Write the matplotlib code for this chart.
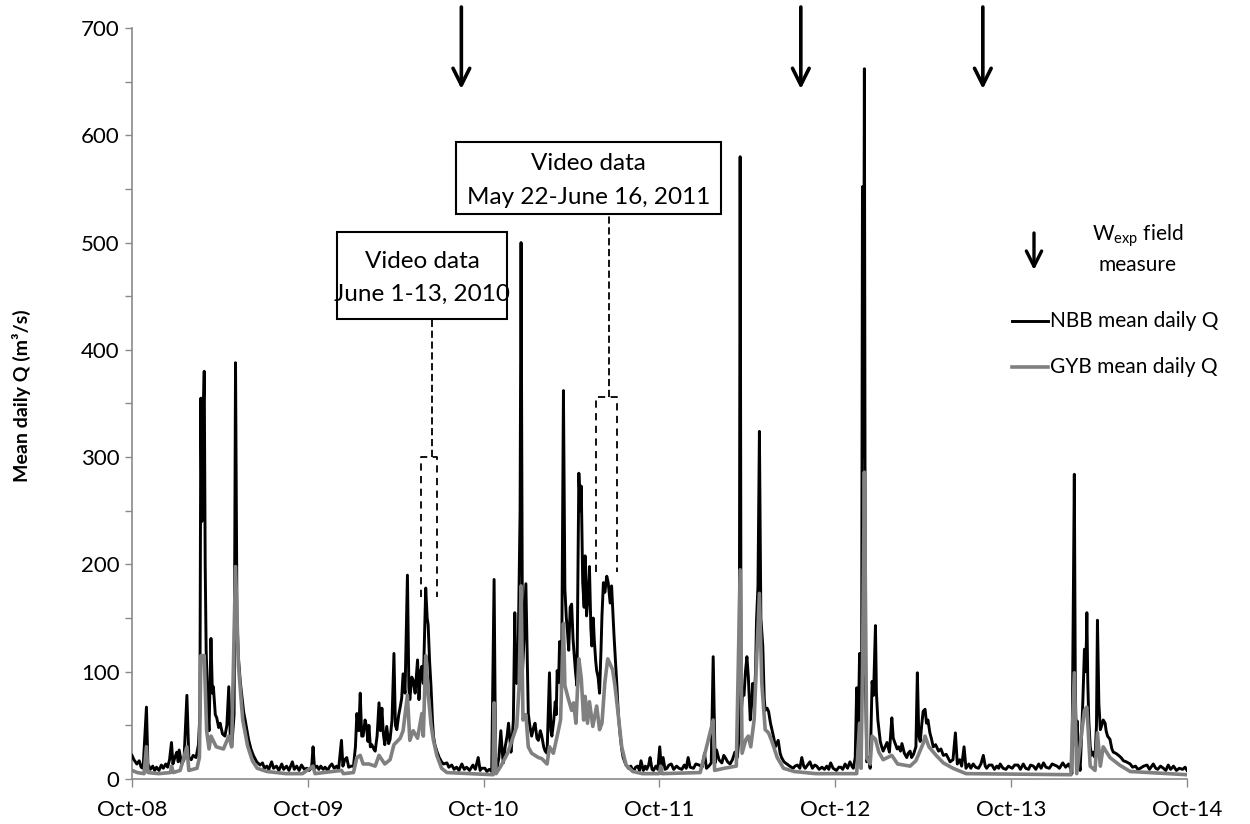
import matplotlib
matplotlib.use('Agg')
import matplotlib.pyplot as plt
import matplotlib.dates as mdates
import pandas as pd
from matplotlib.patches import Rectangle

plt.rcParams['font.family'] = ['Lato', 'DejaVu Sans']
plt.rcParams['mathtext.fontset'] = 'custom'
plt.rcParams['mathtext.rm'] = 'Lato'
plt.rcParams['mathtext.it'] = 'Lato:italic'
plt.rcParams['mathtext.bf'] = 'Lato:bold'

# ---------------- data, one list per water year ----------------
nbb_wy2009 = [
    ('2008-10-01', 22), ('2008-10-05', 18), ('2008-10-11', 14), ('2008-10-16', 17), ('2008-10-20', 11),
    ('2008-10-24', 10), ('2008-10-31', 67), ('2008-11-03', 14), ('2008-11-08', 9), ('2008-11-13', 12),
    ('2008-11-17', 8), ('2008-11-21', 11), ('2008-11-26', 8), ('2008-12-01', 13), ('2008-12-05', 10),
    ('2008-12-10', 14), ('2008-12-14', 11), ('2008-12-18', 18), ('2008-12-22', 34), ('2008-12-25', 14),
    ('2008-12-29', 20), ('2009-01-02', 25), ('2009-01-05', 16), ('2009-01-07', 27), ('2009-01-12', 14),
    ('2009-01-17', 18), ('2009-01-23', 78), ('2009-01-27', 20), ('2009-02-01', 18), ('2009-02-05', 22),
    ('2009-02-11', 20), ('2009-02-16', 32), ('2009-02-19', 60), ('2009-02-21', 355), ('2009-02-23', 240),
    ('2009-02-25', 320), ('2009-02-28', 380), ('2009-03-02', 200), ('2009-03-04', 120), ('2009-03-08', 60),
    ('2009-03-10', 45), ('2009-03-14', 131), ('2009-03-17', 80), ('2009-03-19', 86), ('2009-03-23', 60),
    ('2009-03-26', 57), ('2009-03-30', 48), ('2009-04-02', 52), ('2009-04-07', 42), ('2009-04-12', 40),
    ('2009-04-16', 50), ('2009-04-20', 86), ('2009-04-23', 40), ('2009-04-26', 30), ('2009-05-01', 60),
    ('2009-05-04', 388), ('2009-05-07', 150), ('2009-05-10', 113), ('2009-05-14', 90), ('2009-05-17', 78),
    ('2009-05-21', 62), ('2009-05-24', 55), ('2009-05-28', 45), ('2009-05-31', 37), ('2009-06-05', 28),
    ('2009-06-10', 22), ('2009-06-17', 16), ('2009-06-24', 13), ('2009-06-29', 15), ('2009-07-03', 10),
    ('2009-07-08', 12), ('2009-07-12', 9), ('2009-07-18', 16), ('2009-07-22', 10), ('2009-07-28', 12),
    ('2009-08-02', 8), ('2009-08-08', 14), ('2009-08-12', 9), ('2009-08-18', 12), ('2009-08-23', 8),
    ('2009-08-30', 16), ('2009-09-03', 9), ('2009-09-08', 12), ('2009-09-13', 8), ('2009-09-18', 13),
    ('2009-09-24', 9), ('2009-09-29', 10),
]
nbb_wy2010 = [
    ('2009-10-04', 8), ('2009-10-09', 11), ('2009-10-12', 30), ('2009-10-15', 10), ('2009-10-20', 12),
    ('2009-10-24', 9), ('2009-10-28', 12), ('2009-11-02', 9), ('2009-11-06', 11), ('2009-11-11', 8),
    ('2009-11-16', 12), ('2009-11-20', 14), ('2009-11-25', 10), ('2009-11-30', 12), ('2009-12-04', 9),
    ('2009-12-10', 36), ('2009-12-13', 12), ('2009-12-17', 18), ('2009-12-21', 20), ('2009-12-25', 11),
    ('2009-12-30', 12), ('2010-01-04', 12), ('2010-01-08', 30), ('2010-01-11', 61), ('2010-01-15', 45),
    ('2010-01-18', 80), ('2010-01-21', 40), ('2010-01-24', 40), ('2010-01-28', 55), ('2010-01-31', 49),
    ('2010-02-03', 35), ('2010-02-05', 50), ('2010-02-08', 30), ('2010-02-11', 32), ('2010-02-15', 28),
    ('2010-02-18', 26), ('2010-02-22', 40), ('2010-02-26', 71), ('2010-03-01', 45), ('2010-03-04', 66),
    ('2010-03-07', 42), ('2010-03-10', 32), ('2010-03-14', 49), ('2010-03-18', 33), ('2010-03-21', 37),
    ('2010-03-25', 55), ('2010-03-29', 117), ('2010-04-01', 50), ('2010-04-04', 46), ('2010-04-08', 60),
    ('2010-04-11', 67), ('2010-04-14', 75), ('2010-04-17', 98), ('2010-04-21', 80), ('2010-04-26', 190),
    ('2010-04-29', 85), ('2010-05-01', 74), ('2010-05-05', 95), ('2010-05-08', 92), ('2010-05-12', 80),
    ('2010-05-17', 111), ('2010-05-20', 74), ('2010-05-23', 100), ('2010-05-26', 105), ('2010-05-29', 89),
    ('2010-06-03', 178), ('2010-06-06', 150), ('2010-06-08', 144), ('2010-06-11', 110), ('2010-06-14', 86),
    ('2010-06-17', 55), ('2010-06-19', 40), ('2010-06-22', 32), ('2010-06-26', 26), ('2010-07-01', 20),
    ('2010-07-06', 16), ('2010-07-10', 14), ('2010-07-17', 15), ('2010-07-21', 11), ('2010-07-27', 13),
    ('2010-08-01', 9), ('2010-08-06', 11), ('2010-08-11', 8), ('2010-08-17', 14), ('2010-08-22', 9),
    ('2010-08-27', 11), ('2010-09-02', 8), ('2010-09-09', 13), ('2010-09-14', 9), ('2010-09-20', 20),
    ('2010-09-24', 8), ('2010-09-27', 10),
]
nbb_wy2011 = [
    ('2010-10-04', 10), ('2010-10-08', 7), ('2010-10-13', 9), ('2010-10-18', 7), ('2010-10-23', 186),
    ('2010-10-26', 20), ('2010-10-29', 10), ('2010-11-02', 20), ('2010-11-06', 45), ('2010-11-09', 25),
    ('2010-11-11', 15), ('2010-11-15', 30), ('2010-11-19', 40), ('2010-11-22', 52), ('2010-11-27', 25),
    ('2010-11-30', 40), ('2010-12-02', 55), ('2010-12-05', 155), ('2010-12-07', 100), ('2010-12-09', 89),
    ('2010-12-12', 120), ('2010-12-14', 186), ('2010-12-16', 250), ('2010-12-18', 500), ('2010-12-21', 100),
    ('2010-12-24', 130), ('2010-12-28', 182), ('2011-01-02', 61), ('2011-01-05', 50), ('2011-01-09', 40),
    ('2011-01-13', 48), ('2011-01-16', 52), ('2011-01-20', 38), ('2011-01-23', 36), ('2011-01-27', 45),
    ('2011-01-30', 40), ('2011-02-03', 30), ('2011-02-06', 26), ('2011-02-10', 24), ('2011-02-15', 99),
    ('2011-02-18', 45), ('2011-02-20', 40), ('2011-02-24', 55), ('2011-02-27', 72), ('2011-03-01', 60),
    ('2011-03-03', 101), ('2011-03-06', 90), ('2011-03-08', 128), ('2011-03-12', 80), ('2011-03-16', 362),
    ('2011-03-19', 177), ('2011-03-22', 150), ('2011-03-24', 140), ('2011-03-27', 120), ('2011-03-30', 160),
    ('2011-04-02', 163), ('2011-04-05', 130), ('2011-04-07', 118), ('2011-04-10', 100), ('2011-04-13', 87),
    ('2011-04-17', 285), ('2011-04-20', 250), ('2011-04-22', 273), ('2011-04-25', 183), ('2011-04-28', 160),
    ('2011-04-30', 208), ('2011-05-03', 152), ('2011-05-06', 170), ('2011-05-09', 198), ('2011-05-12', 140),
    ('2011-05-14', 124), ('2011-05-17', 150), ('2011-05-19', 130), ('2011-05-22', 110), ('2011-05-24', 101),
    ('2011-05-27', 95), ('2011-05-30', 80), ('2011-06-02', 120), ('2011-06-04', 152), ('2011-06-07', 183),
    ('2011-06-10', 174), ('2011-06-14', 189), ('2011-06-17', 183), ('2011-06-21', 164), ('2011-06-24', 180),
    ('2011-06-29', 134), ('2011-07-02', 110), ('2011-07-05', 87), ('2011-07-08', 60), ('2011-07-12', 40),
    ('2011-07-15', 28), ('2011-07-18', 20), ('2011-07-23', 14), ('2011-07-29', 10), ('2011-08-03', 12),
    ('2011-08-08', 7), ('2011-08-13', 11), ('2011-08-17', 12), ('2011-08-21', 8), ('2011-08-24', 17),
    ('2011-08-29', 8), ('2011-09-02', 12), ('2011-09-05', 9), ('2011-09-09', 13), ('2011-09-12', 20),
    ('2011-09-16', 9), ('2011-09-19', 8), ('2011-09-24', 12), ('2011-09-28', 9),
]
nbb_wy2012 = [
    ('2011-10-02', 30), ('2011-10-05', 12), ('2011-10-09', 20), ('2011-10-13', 9), ('2011-10-17', 10),
    ('2011-10-21', 13), ('2011-10-26', 14), ('2011-10-31', 9), ('2011-11-06', 12), ('2011-11-11', 10),
    ('2011-11-17', 9), ('2011-11-22', 13), ('2011-11-26', 10), ('2011-11-30', 20), ('2011-12-04', 11),
    ('2011-12-11', 10), ('2011-12-16', 14), ('2011-12-23', 13), ('2011-12-29', 11), ('2012-01-03', 24),
    ('2012-01-07', 10), ('2012-01-12', 12), ('2012-01-17', 15), ('2012-01-21', 114), ('2012-01-25', 15),
    ('2012-01-28', 27), ('2012-02-02', 18), ('2012-02-08', 15), ('2012-02-12', 22), ('2012-02-15', 20),
    ('2012-02-20', 16), ('2012-02-25', 14), ('2012-03-01', 18), ('2012-03-06', 25), ('2012-03-11', 20),
    ('2012-03-15', 40), ('2012-03-17', 580), ('2012-03-19', 60), ('2012-03-22', 80), ('2012-03-25', 78),
    ('2012-03-28', 100), ('2012-03-31', 114), ('2012-04-03', 95), ('2012-04-07', 55), ('2012-04-10', 70),
    ('2012-04-12', 89), ('2012-04-15', 72), ('2012-04-18', 100), ('2012-04-20', 148), ('2012-04-23', 180),
    ('2012-04-26', 324), ('2012-04-29', 150), ('2012-05-03', 124), ('2012-05-06', 75), ('2012-05-08', 64),
    ('2012-05-12', 66), ('2012-05-15', 63), ('2012-05-19', 52), ('2012-05-22', 46), ('2012-05-26', 38),
    ('2012-05-29', 30), ('2012-06-01', 33), ('2012-06-04', 36), ('2012-06-08', 24), ('2012-06-11', 20),
    ('2012-06-16', 16), ('2012-06-22', 14), ('2012-06-28', 12), ('2012-07-05', 10), ('2012-07-09', 12),
    ('2012-07-14', 13), ('2012-07-19', 10), ('2012-07-23', 20), ('2012-07-27', 12), ('2012-07-30', 10),
    ('2012-08-04', 13), ('2012-08-09', 16), ('2012-08-14', 10), ('2012-08-19', 13), ('2012-08-23', 12),
    ('2012-08-28', 9), ('2012-09-03', 11), ('2012-09-08', 9), ('2012-09-13', 12), ('2012-09-17', 9),
    ('2012-09-21', 15), ('2012-09-26', 10),
]
nbb_wy2013 = [
    ('2012-10-03', 8), ('2012-10-08', 11), ('2012-10-12', 11), ('2012-10-16', 9), ('2012-10-21', 14),
    ('2012-10-26', 10), ('2012-10-31', 16), ('2012-11-04', 12), ('2012-11-07', 10), ('2012-11-11', 20),
    ('2012-11-14', 85), ('2012-11-17', 40), ('2012-11-20', 117), ('2012-11-24', 16), ('2012-11-26', 552),
    ('2012-11-28', 300), ('2012-11-30', 662), ('2012-12-02', 100), ('2012-12-05', 16), ('2012-12-09', 20),
    ('2012-12-12', 10), ('2012-12-16', 91), ('2012-12-19', 78), ('2012-12-23', 143), ('2012-12-25', 80),
    ('2012-12-28', 55), ('2013-01-02', 35), ('2013-01-05', 30), ('2013-01-08', 26), ('2013-01-12', 30),
    ('2013-01-16', 34), ('2013-01-21', 25), ('2013-01-26', 57), ('2013-01-29', 38), ('2013-02-02', 33),
    ('2013-02-06', 28), ('2013-02-09', 30), ('2013-02-13', 26), ('2013-02-16', 33), ('2013-02-21', 24),
    ('2013-02-26', 20), ('2013-03-01', 24), ('2013-03-05', 26), ('2013-03-08', 20), ('2013-03-12', 23),
    ('2013-03-17', 30), ('2013-03-20', 99), ('2013-03-23', 40), ('2013-03-26', 35), ('2013-03-29', 50),
    ('2013-04-01', 63), ('2013-04-05', 65), ('2013-04-08', 52), ('2013-04-11', 55), ('2013-04-15', 43),
    ('2013-04-18', 38), ('2013-04-22', 30), ('2013-04-27', 32), ('2013-05-03', 26), ('2013-05-08', 28),
    ('2013-05-13', 22), ('2013-05-19', 23), ('2013-05-27', 16), ('2013-06-02', 18), ('2013-06-07', 43),
    ('2013-06-11', 14), ('2013-06-16', 18), ('2013-06-20', 12), ('2013-06-25', 30), ('2013-06-29', 10),
    ('2013-07-05', 14), ('2013-07-09', 10), ('2013-07-14', 14), ('2013-07-19', 11), ('2013-07-25', 10),
    ('2013-07-30', 14), ('2013-08-04', 22), ('2013-08-08', 12), ('2013-08-11', 10), ('2013-08-16', 13),
    ('2013-08-22', 13), ('2013-08-27', 9), ('2013-09-01', 12), ('2013-09-05', 10), ('2013-09-08', 14),
    ('2013-09-14', 10), ('2013-09-20', 9), ('2013-09-25', 12),
]
nbb_wy2014 = [
    ('2013-10-03', 10), ('2013-10-08', 13), ('2013-10-15', 13), ('2013-10-20', 9), ('2013-10-26', 14),
    ('2013-10-31', 10), ('2013-11-06', 9), ('2013-11-10', 13), ('2013-11-16', 12), ('2013-11-21', 9),
    ('2013-11-27', 14), ('2013-12-02', 10), ('2013-12-07', 15), ('2013-12-12', 11), ('2013-12-19', 10),
    ('2013-12-25', 14), ('2014-01-04', 12), ('2014-01-09', 10), ('2014-01-16', 15), ('2014-01-22', 11),
    ('2014-01-28', 14), ('2014-02-01', 10), ('2014-02-04', 5), ('2014-02-09', 284), ('2014-02-11', 90),
    ('2014-02-13', 30), ('2014-02-15', 54), ('2014-02-18', 20), ('2014-02-21', 8), ('2014-02-24', 40),
    ('2014-02-27', 77), ('2014-03-02', 121), ('2014-03-05', 100), ('2014-03-07', 155), ('2014-03-09', 90),
    ('2014-03-11', 55), ('2014-03-14', 30), ('2014-03-17', 22), ('2014-03-20', 25), ('2014-03-24', 20),
    ('2014-03-27', 50), ('2014-03-29', 148), ('2014-04-01', 70), ('2014-04-04', 46), ('2014-04-07', 50),
    ('2014-04-10', 55), ('2014-04-14', 52), ('2014-04-16', 45), ('2014-04-19', 40), ('2014-04-24', 37),
    ('2014-04-28', 28), ('2014-05-01', 25), ('2014-05-06', 24), ('2014-05-12', 22), ('2014-05-17', 20),
    ('2014-05-22', 17), ('2014-05-28', 16), ('2014-06-05', 14), ('2014-06-10', 11), ('2014-06-16', 12),
    ('2014-06-21', 9), ('2014-06-26', 10), ('2014-07-03', 12), ('2014-07-10', 13), ('2014-07-15', 9),
    ('2014-07-23', 14), ('2014-07-28', 10), ('2014-08-01', 9), ('2014-08-07', 12), ('2014-08-13', 10),
    ('2014-08-18', 8), ('2014-08-23', 13), ('2014-08-28', 9), ('2014-09-03', 12), ('2014-09-09', 8),
    ('2014-09-15', 10), ('2014-09-22', 9), ('2014-09-27', 11), ('2014-10-01', 8),
]

gyb_wy2009 = [
    ('2008-10-01', 8), ('2008-10-12', 6), ('2008-10-26', 5), ('2008-10-31', 30), ('2008-11-03', 6),
    ('2008-11-25', 5), ('2008-12-20', 6), ('2008-12-22', 12), ('2008-12-26', 6), ('2009-01-09', 8),
    ('2009-01-23', 30), ('2009-01-27', 8), ('2009-02-13', 10), ('2009-02-18', 20), ('2009-02-21', 115),
    ('2009-02-28', 115), ('2009-03-05', 45), ('2009-03-10', 28), ('2009-03-14', 40), ('2009-03-25', 30),
    ('2009-04-09', 28), ('2009-04-20', 40), ('2009-04-26', 30), ('2009-05-04', 198), ('2009-05-10', 106),
    ('2009-05-19', 55), ('2009-05-29', 31), ('2009-06-08', 17), ('2009-06-18', 10), ('2009-07-08', 7),
    ('2009-08-17', 5), ('2009-09-20', 5),
]
gyb_wy2010 = [
    ('2009-10-12', 12), ('2009-10-16', 5), ('2009-12-10', 8), ('2009-12-14', 5), ('2010-01-04', 6),
    ('2010-01-11', 20), ('2010-01-18', 22), ('2010-01-24', 14), ('2010-02-05', 14), ('2010-02-18', 12),
    ('2010-02-26', 22), ('2010-03-10', 14), ('2010-03-21', 18), ('2010-03-29', 32), ('2010-04-11', 38),
    ('2010-04-17', 45), ('2010-04-26', 78), ('2010-05-01', 36), ('2010-05-08', 45), ('2010-05-17', 38),
    ('2010-05-26', 61), ('2010-05-29', 40), ('2010-06-03', 115), ('2010-06-08', 80), ('2010-06-14', 51),
    ('2010-06-19', 36), ('2010-06-26', 22), ('2010-07-06', 10), ('2010-07-17', 6), ('2010-09-01', 5),
]
gyb_wy2011 = [
    ('2010-10-21', 4), ('2010-10-23', 71), ('2010-10-27', 5), ('2010-11-06', 12), ('2010-11-20', 24),
    ('2010-11-30', 37), ('2010-12-09', 49), ('2010-12-14', 87), ('2010-12-18', 180), ('2010-12-22', 55),
    ('2010-12-28', 60), ('2011-01-02', 30), ('2011-01-09', 24), ('2011-01-23', 20), ('2011-01-30', 19),
    ('2011-02-10', 14), ('2011-02-15', 30), ('2011-02-23', 24), ('2011-03-03', 40), ('2011-03-10', 55),
    ('2011-03-16', 145), ('2011-03-19', 87), ('2011-03-26', 75), ('2011-04-02', 64), ('2011-04-06', 71),
    ('2011-04-11', 52), ('2011-04-17', 112), ('2011-04-22', 94), ('2011-04-27', 55), ('2011-04-30', 77),
    ('2011-05-05', 52), ('2011-05-09', 72), ('2011-05-16', 49), ('2011-05-24', 68), ('2011-05-30', 46),
    ('2011-06-04', 52), ('2011-06-10', 90), ('2011-06-16', 112), ('2011-06-21', 107), ('2011-06-26', 102),
    ('2011-07-01', 87), ('2011-07-09', 55), ('2011-07-15', 30), ('2011-07-24', 13), ('2011-08-07', 7),
    ('2011-08-27', 5),
]
gyb_wy2012 = [
    ('2011-10-01', 5), ('2011-10-04', 12), ('2011-10-07', 5), ('2011-12-25', 6), ('2012-01-21', 55),
    ('2012-01-24', 8), ('2012-02-13', 10), ('2012-03-09', 12), ('2012-03-17', 195), ('2012-03-21', 24),
    ('2012-03-29', 37), ('2012-04-03', 40), ('2012-04-08', 30), ('2012-04-15', 55), ('2012-04-26', 173),
    ('2012-05-01', 89), ('2012-05-08', 46), ('2012-05-15', 43), ('2012-05-22', 35), ('2012-06-02', 20),
    ('2012-06-15', 10), ('2012-07-07', 7), ('2012-08-21', 5),
]
gyb_wy2013 = [
    ('2012-11-14', 5), ('2012-11-20', 52), ('2012-11-23', 10), ('2012-11-26', 100), ('2012-11-30', 286),
    ('2012-12-05', 20), ('2012-12-12', 14), ('2012-12-16', 40), ('2012-12-23', 37), ('2012-12-30', 25),
    ('2013-01-08', 18), ('2013-01-26', 22), ('2013-02-07', 14), ('2013-03-05', 12), ('2013-03-17', 17),
    ('2013-04-01', 33), ('2013-04-05', 40), ('2013-04-13', 30), ('2013-04-28', 22), ('2013-05-13', 15),
    ('2013-06-02', 10), ('2013-06-29', 5),
]
gyb_wy2014 = [
    ('2014-02-02', 4), ('2014-02-09', 99), ('2014-02-14', 5), ('2014-03-02', 64), ('2014-03-07', 67),
    ('2014-03-14', 12), ('2014-03-24', 8), ('2014-03-29', 43), ('2014-04-04', 12), ('2014-04-10', 30),
    ('2014-04-24', 20), ('2014-05-14', 13), ('2014-06-05', 7), ('2014-10-01', 4),
]

x_start, x_end = '2008-10-01', '2014-10-01'
year_ticks = ['2008-10-01', '2009-10-01', '2010-10-01', '2011-10-01',
              '2012-10-01', '2013-10-01', '2014-10-01']
y_major = [0, 100, 200, 300, 400, 500, 600, 700]
y_minor = [50, 150, 250, 350, 450, 550, 650]

field_measure_dates = ['2010-08-16', '2012-07-21', '2013-08-03']

# video-data windows marked on the chart: (start, end, low Q, high Q)
video_2010 = ('2010-05-24', '2010-06-26', 170, 300)
video_2011 = ('2011-05-23', '2011-07-05', 193, 356)
video_2010_link = '2010-06-15'
video_2011_link = '2011-06-19'

nbb = nbb_wy2009 + nbb_wy2010 + nbb_wy2011 + nbb_wy2012 + nbb_wy2013 + nbb_wy2014
gyb = gyb_wy2009 + gyb_wy2010 + gyb_wy2011 + gyb_wy2012 + gyb_wy2013 + gyb_wy2014
nbb_df = pd.DataFrame(nbb, columns=['date', 'q'])
gyb_df = pd.DataFrame(gyb, columns=['date', 'q'])
nbb_df['date'] = pd.to_datetime(nbb_df['date'])
gyb_df['date'] = pd.to_datetime(gyb_df['date'])

# ---------------- figure ----------------
W, H = 1250, 824
fig = plt.figure(figsize=(W / 100, H / 100), dpi=100)
ax = fig.add_axes([132 / W, 1 - 779 / H, 1055 / W, 751 / H])

axis_grey = '#8a8a8a'
ax.plot(nbb_df['date'], nbb_df['q'], color='black', lw=2.1, zorder=3)
ax.plot(gyb_df['date'], gyb_df['q'], color='#808080', lw=2.6, zorder=4)

ax.set_xlim(pd.Timestamp(x_start), pd.Timestamp(x_end))
ax.set_ylim(0, 700)
ax.set_xticks(pd.to_datetime(year_ticks))
ax.xaxis.set_major_formatter(mdates.DateFormatter('%b-%y'))
ax.set_yticks(y_major)
ax.set_yticks(y_minor, minor=True)

for s in ['top', 'right']:
    ax.spines[s].set_visible(False)
for s in ['left', 'bottom']:
    ax.spines[s].set_color(axis_grey)
    ax.spines[s].set_linewidth(1.2)

ax.tick_params(axis='both', which='both', direction='out', color=axis_grey, width=1.0)
ax.tick_params(axis='x', which='major', length=6, labelsize=16, pad=9)
ax.tick_params(axis='y', which='major', length=5, labelsize=16, pad=4)
ax.tick_params(axis='y', which='minor', length=5)

ax.set_ylabel('Mean daily Q (m³/s)', fontsize=14, fontweight='bold')
ax.yaxis.set_label_coords(-0.096, 0.51)

# field-measure arrows at the top
for d in field_measure_dates:
    ax.annotate('', xy=(pd.Timestamp(d), (779 - 89) / 751),
                xytext=(pd.Timestamp(d), (779 - 7) / 751),
                xycoords=('data', 'axes fraction'), textcoords=('data', 'axes fraction'),
                arrowprops=dict(arrowstyle='->,head_length=1.0,head_width=0.5', lw=2.6,
                                color='black', shrinkA=0, shrinkB=0, mutation_scale=12),
                annotation_clip=False)

# video-data brackets and boxes
def bracket(win, link, box_bottom_frac):
    x0, x1 = pd.Timestamp(win[0]), pd.Timestamp(win[1])
    ylo, yhi = win[2], win[3]
    ax.plot([x0, x0, x1, x1], [ylo, yhi, yhi, ylo], color='black', lw=1.3,
            ls=(0, (4, 3)), zorder=5)
    xl = pd.Timestamp(link)
    ax.plot([xl, xl], [yhi, box_bottom_frac * 700], color='black', lw=1.3,
            ls=(0, (4, 2)), zorder=5)

def box(x0px, x1px, y0px, y1px, lines, line_ypx):
    fx0 = (x0px - 132) / 1055
    fx1 = (x1px - 132) / 1055
    fy_top = (779 - y0px) / 751
    fy_bot = (779 - y1px) / 751
    ax.add_patch(Rectangle((fx0, fy_bot), fx1 - fx0, fy_top - fy_bot, transform=ax.transAxes,
                           facecolor='white', edgecolor='black', lw=1.5, zorder=6,
                           clip_on=False))
    cx = (fx0 + fx1) / 2
    for t, yp in zip(lines, line_ypx):
        ax.text(cx, (779 - yp) / 751, t, transform=ax.transAxes, ha='center', va='center',
                fontsize=17.5, zorder=7)
    return fy_bot

b1 = box(337, 507, 232, 319, ['Video data', 'June 1-13, 2010'], [262, 294])
b2 = box(456, 721, 142, 214, ['Video data', 'May 22-June 16, 2011'], [163, 197])
bracket(video_2010, video_2010_link, b1)
bracket(video_2011, video_2011_link, b2)

# legend (drawn by hand, Excel style)
def afx(px):
    return (px - 132) / 1055

def afy(py):
    return (779 - py) / 751

ax.annotate('', xy=(afx(1034), afy(270)), xytext=(afx(1034), afy(233)),
            xycoords='axes fraction', textcoords='axes fraction',
            arrowprops=dict(arrowstyle='->,head_length=1.0,head_width=0.5', lw=2.4,
                            color='black', shrinkA=0, shrinkB=0, mutation_scale=11),
            annotation_clip=False)
ax.text(afx(1138), afy(236), r'W$_{\mathrm{exp}}$ field', transform=ax.transAxes,
        ha='center', va='center', fontsize=15)
ax.text(afx(1138), afy(265), 'measure', transform=ax.transAxes,
        ha='center', va='center', fontsize=15)

for label, col, lw, ypx in [('NBB mean daily Q', 'black', 2.1, 321),
                            ('GYB mean daily Q', '#808080', 2.6, 367)]:
    ax.plot([afx(1012), afx(1048)], [afy(ypx), afy(ypx)], transform=ax.transAxes,
            color=col, lw=lw, clip_on=False)
    ax.text(afx(1050), afy(ypx), label, transform=ax.transAxes, ha='left', va='center',
            fontsize=15)

fig.savefig('out.png', dpi=100)
